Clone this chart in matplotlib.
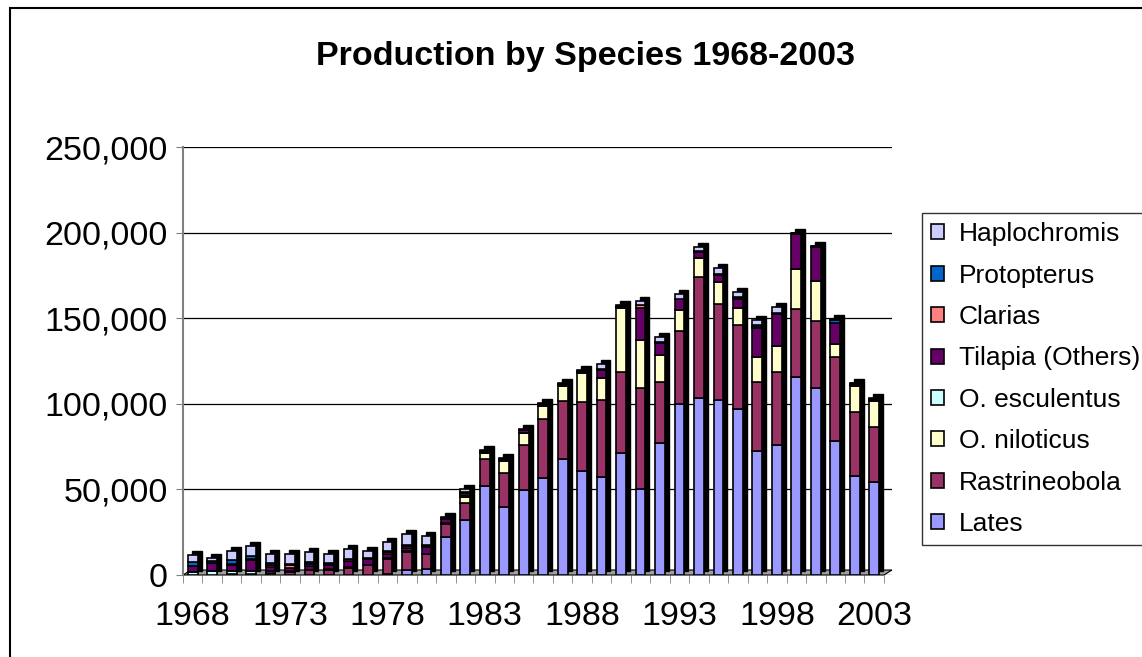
import numpy as np
import matplotlib
matplotlib.use('Agg')
from matplotlib import pyplot as plt
from matplotlib import transforms
from matplotlib.patches import Polygon, Rectangle
from matplotlib.ticker import FuncFormatter

plt.rcParams['font.family'] = ['Liberation Sans', 'DejaVu Sans']

years = np.arange(1968, 2004)

# catch by species (tonnes), stacked bottom to top
lates = [0, 0, 0, 0, 200, 200, 200, 200, 200, 200, 500, 3000, 3500,
         22000, 32000, 52000, 40000, 49500, 56500, 68000, 61000, 57000,
         71500, 50500, 77000, 100000, 103500, 102500, 97000, 72500, 76000,
         115500, 109500, 78000, 58000, 54500]
rastrineobola = [0, 0, 0, 0, 1000, 1500, 2500, 3000, 4000, 5500, 9000, 10500, 8500,
                 7500, 10000, 16000, 19500, 26500, 34500, 33500, 40000, 45500,
                 47000, 59000, 35500, 42500, 70500, 56000, 49000, 40500, 42500,
                 40000, 39000, 49500, 37500, 32000]
o_niloticus = [200, 200, 300, 300, 200, 200, 200, 200, 200, 200, 300, 300, 300,
               1000, 3500, 3000, 7000, 7000, 7500, 9000, 17000, 12500,
               37500, 27500, 16000, 12500, 11000, 12500, 10000, 14500, 15000,
               23000, 23000, 7500, 15000, 15000]
o_esculentus = [1800, 2300, 2300, 2300, 1200, 300, 300, 200, 200, 200, 200, 200, 200,
                0, 0, 0, 0, 0, 0, 0, 0, 0,
                0, 0, 0, 0, 0, 0, 0, 0, 0,
                0, 0, 0, 0, 0]
tilapia_others = [3000, 4500, 3500, 6000, 2000, 2000, 2000, 2000, 3500, 3000, 2000, 2000, 4000,
                  2000, 1000, 1000, 1000, 1500, 1000, 800, 800, 4500,
                  800, 19000, 7000, 6000, 3500, 4500, 5500, 17000, 19000,
                  20500, 20000, 12000, 1000, 800]
clarias = [300, 200, 500, 800, 1500, 1500, 1000, 1000, 1000, 500, 1500, 1200, 500,
           500, 1500, 300, 200, 200, 200, 200, 200, 300,
           200, 1500, 300, 200, 200, 200, 200, 200, 200,
           200, 200, 200, 200, 200]
protopterus = [2500, 1000, 2000, 1500, 700, 1000, 1500, 500, 500, 500, 500, 500, 500,
               500, 500, 200, 200, 200, 200, 200, 200, 300,
               200, 300, 300, 300, 300, 300, 500, 1500, 500,
               300, 300, 1500, 300, 300]
haplochromis = [4000, 1500, 5500, 6000, 5500, 5500, 6000, 5000, 5500, 3800, 5500, 6000, 5000,
                500, 1500, 300, 300, 300, 300, 500, 500, 3000,
                300, 2500, 3000, 2500, 2500, 3500, 3000, 2500, 3500,
                300, 300, 1000, 300, 300]

species = ['Lates', 'Rastrineobola', 'O. niloticus', 'O. esculentus',
           'Tilapia (Others)', 'Clarias', 'Protopterus', 'Haplochromis']
series = [lates, rastrineobola, o_niloticus, o_esculentus,
          tilapia_others, clarias, protopterus, haplochromis]
colors = ['#9999FF', '#993366', '#FFFFCC', '#CCFFFF',
          '#660066', '#FF8080', '#0066CC', '#CCCCFF']

W, H = 1142, 657
fig = plt.figure(figsize=(W / 100, H / 100), dpi=100)
ax = fig.add_axes([183 / W, 82 / H, 709 / W, 428 / H])
ax.set_xlim(1967.5, 1967.5 + 709 / 19.47)
ax.set_ylim(0, 250000)

# grey floor under the bars
floor = Polygon([(0, 0), (701 / 709, 0), (1, 5 / 428), (8 / 709, 5 / 428)],
                closed=True, transform=ax.transAxes, facecolor='#a0a0a0',
                edgecolor='black', lw=0.8, clip_on=False, zorder=1.5)
ax.add_patch(floor)

# dark side/top faces: full-height bar shifted up and right
totals = np.sum(series, axis=0)
shadow = transforms.offset_copy(ax.transData, fig=fig, x=4, y=4, units='dots')
ax.bar(years, totals, 0.5, color='black', edgecolor='black', linewidth=1,
       transform=shadow, zorder=2)

bottom = np.zeros(len(years))
for name, vals, col in zip(species, series, colors):
    ax.bar(years, vals, 0.5, bottom=bottom, color=col, edgecolor='black',
           linewidth=1.2, label=name, zorder=3)
    bottom += np.array(vals)

ax.set_axisbelow(True)
ax.yaxis.grid(True, color='black', lw=0.9)
ax.set_yticks(range(0, 250001, 50000))
ax.yaxis.set_major_formatter(FuncFormatter(lambda v, p: f'{v:,.0f}'))
ax.tick_params(axis='y', length=5, color='#808080', pad=6, labelsize=24.5)

ax.set_xticks(range(1968, 2004, 5))
ax.set_xticks(np.arange(1967.5, 2004, 1), minor=True)
ax.tick_params(axis='x', which='major', length=0, pad=19, labelsize=24.5)
ax.tick_params(axis='x', which='minor', length=6, color='#808080')

for s in ['top', 'right', 'bottom']:
    ax.spines[s].set_visible(False)
ax.spines['left'].set_color('#808080')
ax.spines['left'].set_linewidth(1.5)

handles, labels = ax.get_legend_handles_labels()
leg = fig.legend(handles[::-1], labels[::-1], loc='upper left',
                 bbox_to_anchor=(922 / W, 1 - 213 / H), bbox_transform=fig.transFigure,
                 fontsize=19, frameon=True, fancybox=False, edgecolor='black',
                 handlelength=0.5, handleheight=0.5, handletextpad=0.55,
                 labelspacing=0.66, borderpad=0.35, borderaxespad=0)
leg.get_frame().set_linewidth(1)

fig.text(586 / W, 1 - 57 / H, 'Production by Species 1968-2003',
         ha='center', va='center', fontsize=24.5, fontweight='bold')

# chart area border
fig.add_artist(Rectangle((10 / W, -0.1), 1.0, 1.1 - 8 / H, transform=fig.transFigure,
                         fill=False, edgecolor='black', lw=1.5))

fig.savefig('out.png', dpi=100)
